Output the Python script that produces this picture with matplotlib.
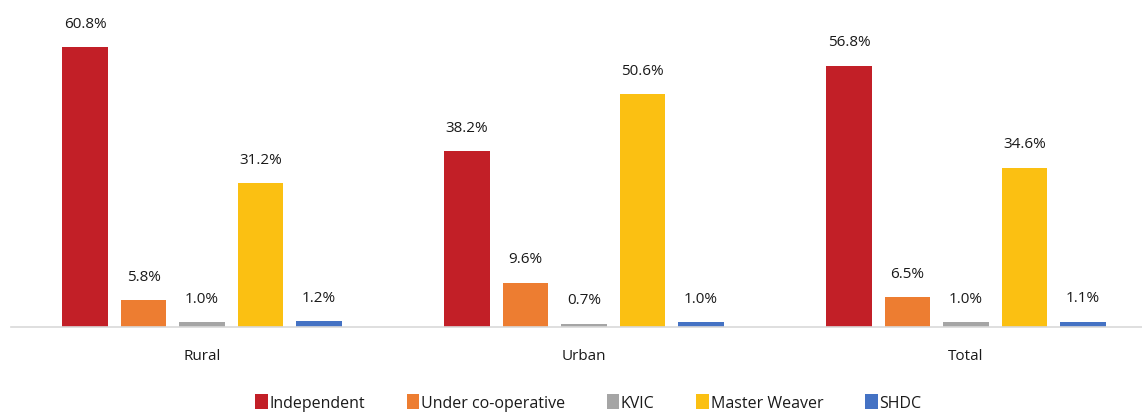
import numpy as np
import matplotlib.pyplot as plt

categories = ['Rural', 'Urban', 'Total']
series = ['Independent', 'Under co-operative', 'KVIC', 'Master Weaver', 'SHDC']
values = [
    [60.8, 38.2, 56.8],
    [5.8, 9.6, 6.5],
    [1.0, 0.7, 1.0],
    [31.2, 50.6, 34.6],
    [1.2, 1.0, 1.1],
]
colors = ['#C21F27', '#ED7D31', '#A5A5A5', '#FBC012', '#4472C4']

plt.rcParams['font.family'] = ['Open Sans', 'DejaVu Sans']

fig = plt.figure(figsize=(11.42, 4.14), dpi=100)
ax = fig.add_axes([11 / 1142, 86 / 414, 1146 / 1142, 322 / 414])

x = np.arange(len(categories))
step = 0.153
width = 0.12
for i, (name, vals) in enumerate(zip(series, values)):
    pos = x + (i - 2) * step
    bars = ax.bar(pos, vals, width, color=colors[i], label=name)
    for b, v in zip(bars, vals):
        ax.text(b.get_x() + b.get_width() / 2, v + 3.6, f'{v:.1f}%',
                ha='center', va='bottom', fontsize=11, color='#1a1a1a')

ax.set_xlim(-0.5, 2.5)
ax.set_ylim(0, 70)
ax.set_yticks([])
ax.set_xticks(x)
ax.set_xticklabels(categories, fontsize=11, color='#1a1a1a')
ax.tick_params(axis='x', length=0, pad=15)
for s in ['top', 'right', 'left']:
    ax.spines[s].set_visible(False)
ax.spines['bottom'].set_color('#D9D9D9')
ax.spines['bottom'].set_linewidth(1.2)

fig.legend(loc='lower center', bbox_to_anchor=(0.515, -0.03), ncol=5, frameon=False,
           fontsize=11.5, handlelength=0.8, handleheight=1.1, handletextpad=0.1,
           columnspacing=2.6, labelcolor='#1a1a1a')

fig.savefig('out.png', dpi=100)
